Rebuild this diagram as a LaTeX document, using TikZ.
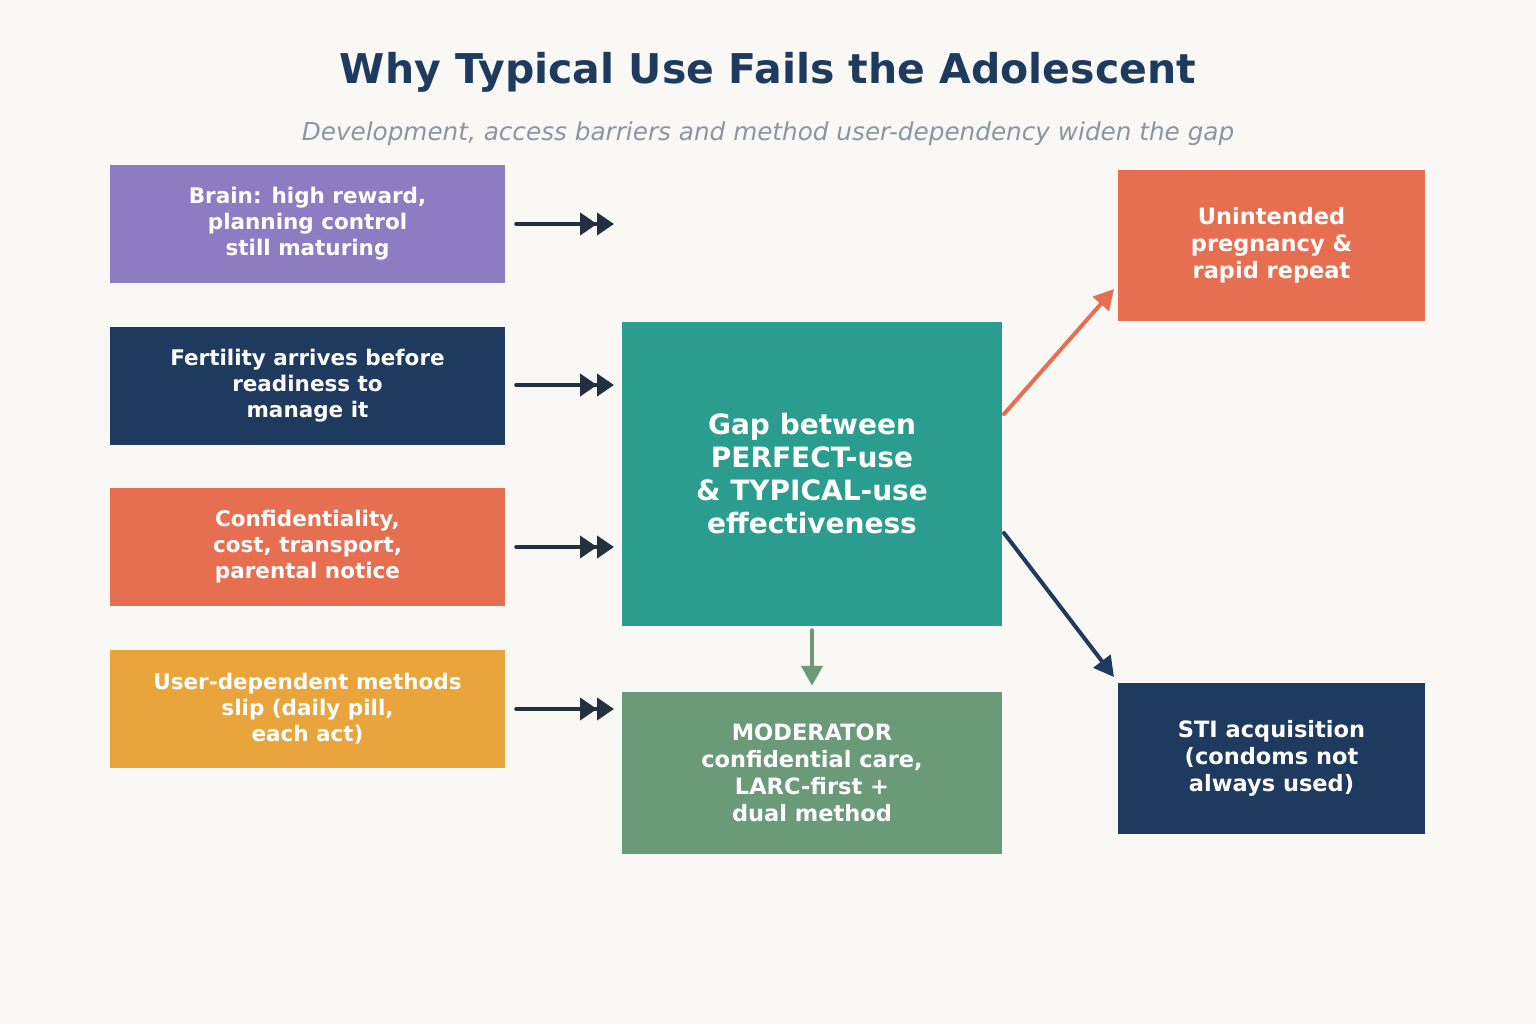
\documentclass[tikz,border=0pt]{standalone}
\usepackage{fontspec}
\setmainfont{DejaVu Sans}
\usepackage{tikz}
\usetikzlibrary{arrows.meta}
\usetikzlibrary{positioning}

\definecolor{bgcol}{HTML}{FAF8F4}
\definecolor{navy}{HTML}{1F3A5F}
\definecolor{purp}{HTML}{8E7CC3}
\definecolor{coral}{HTML}{E76F51}
\definecolor{amber}{HTML}{E9A43B}
\definecolor{teal}{HTML}{2A9D8F}
\definecolor{sage}{HTML}{6B9A78}
\definecolor{ink}{HTML}{22303F}
\definecolor{greytxt}{HTML}{8A96A3}

\begin{document}
\begin{tikzpicture}[x=1pt, y=-1pt,
		cause/.style = {minimum width=395pt, minimum height=118pt, inner sep=0pt,
			text=white, align=center, font=\bfseries\fontsize{21.5}{26}\selectfont},
		outcome/.style = {minimum width=307pt, minimum height=151pt, inner sep=0pt,
			text=white, align=center, font=\bfseries\fontsize{22.5}{27}\selectfont},
		feed/.style = {ink, line width=4pt, line cap=round, shorten <=11pt,
			-{Triangle[length=17pt,width=22pt]Triangle[length=17pt,width=22pt]}},
		lead/.style = {line width=4pt, line cap=round, -{Triangle[length=20pt,width=21pt]}}]
		\fill[bgcol] (0,0) rectangle (1536,1024);
		\useasboundingbox (0,0) rectangle (1536,1024);
		
		\node[navy, font=\bfseries\fontsize{41}{48}\selectfont] (title) at (768,72) {Why Typical Use Fails the Adolescent};
		\node[greytxt, font=\itshape\fontsize{24.7}{28}\selectfont] (sub) at (768,134) {Development, access barriers and method user-dependency widen the gap};
		
		% causes on the left
		\node[cause, fill=purp] (brain) at (307.5,224) {Brain: high reward,\\planning control\\still maturing};
		\node[cause, fill=navy] (fert) at (307.5,385.5) {Fertility arrives before\\readiness to\\manage it};
		\node[cause, fill=coral] (access) at (307.5,547) {Confidentiality,\\cost, transport,\\parental notice};
		\node[cause, fill=amber] (slip) at (307.5,709) {User-dependent methods\\slip (daily pill,\\each act)};
		
		% the gap and its moderator
		\node[fill=teal, minimum width=380pt, minimum height=304pt, inner sep=0pt, text=white, align=center,
			font=\bfseries\fontsize{28}{33}\selectfont] (gap) at (812,474) {Gap between\\PERFECT-use\\\& TYPICAL-use\\effectiveness};
		\node[fill=sage, minimum width=380pt, minimum height=162pt, inner sep=0pt, text=white, align=center,
			font=\bfseries\fontsize{22.5}{27}\selectfont] (mod) at (812,773) {MODERATOR\\confidential care,\\LARC-first +\\dual method};
		
		% outcomes on the right
		\node[outcome, fill=coral] (preg) at (1271.5,245.5) {Unintended\\pregnancy \&\\rapid repeat};
		\node[outcome, fill=navy] (sti) at (1271.5,758.5) {STI acquisition\\(condoms not\\always used)};
		
		\foreach \n/\y in {brain/224, fert/385, access/547, slip/709}
		{
			\coordinate (to-\n) at (614,\y);
			\draw[feed] (\n.east |- 0,\y) -- (to-\n);
		}
		
		\coordinate (g1) at (1004,414);
		\coordinate (g2) at (1004,533);
		\coordinate (p1) at (1114,289);
		\coordinate (s1) at (1114,677);
		\draw[lead, coral] (g1) -- (p1);
		\draw[lead, navy] (g2) -- (s1);
		\draw[lead, sage] ([yshift=-4pt]gap.south) -- ([yshift=6pt]mod.north);
	\end{tikzpicture}
\end{document}
